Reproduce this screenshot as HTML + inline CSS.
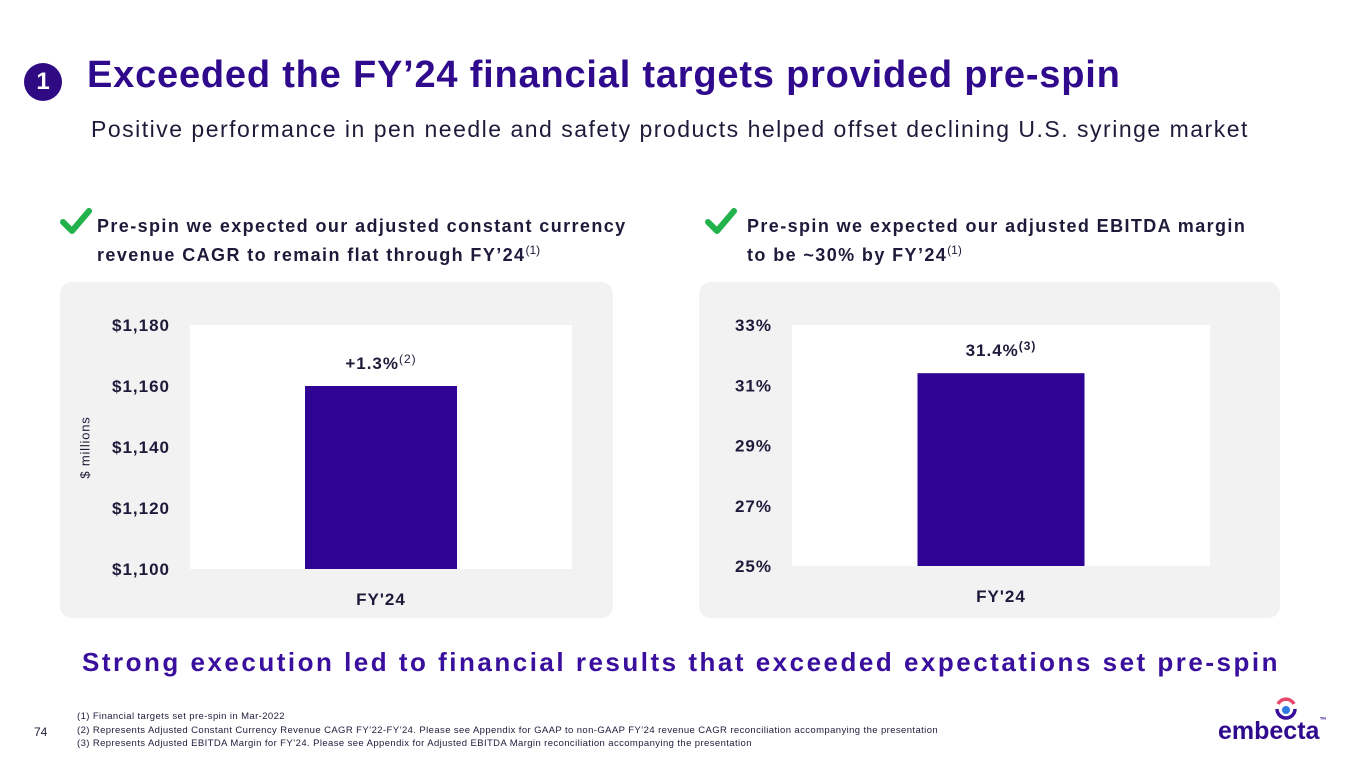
<!DOCTYPE html>
<html><head><meta charset="utf-8">
<style>
body{margin:0;width:1365px;height:768px;background:#fff;font-family:"Liberation Sans",sans-serif;position:relative;overflow:hidden;color:#1e1b3a}
.a{position:absolute}
.hdr{font-weight:bold;font-size:18px;line-height:24px;color:#1e1b3a;letter-spacing:1.4px}
.panel{background:#f2f2f2;border-radius:12px}
</style></head><body>
<div class="a" style="left:24px;top:63px;width:38px;height:38px;border-radius:50%;background:#2f0a82;color:#fff;font-weight:bold;font-size:24px;text-align:center;line-height:38px">1</div>
<div class="a" style="left:87px;top:54px;font-size:38px;font-weight:bold;color:#2f0a8c;white-space:nowrap;letter-spacing:0.8px">Exceeded the FY’24 financial targets provided pre-spin</div>
<div class="a" style="left:91px;top:116px;font-size:23px;color:#1e1b3a;white-space:nowrap;letter-spacing:1.5px">Positive performance in pen needle and safety products helped offset declining U.S. syringe market</div>

<svg class="a" style="left:60px;top:207px" width="32" height="30"><path d="M3 15 L12 24 L29 4" stroke="#22b24c" stroke-width="6" fill="none" stroke-linecap="round" stroke-linejoin="round"/></svg>
<div class="a hdr" style="left:97px;top:214px;white-space:nowrap">Pre-spin we expected our adjusted constant currency<br>revenue CAGR to remain flat through FY’24<sup style="font-weight:normal;font-size:12px;letter-spacing:0">(1)</sup></div>
<svg class="a" style="left:705px;top:207px" width="32" height="30"><path d="M3 15 L12 24 L29 4" stroke="#22b24c" stroke-width="6" fill="none" stroke-linecap="round" stroke-linejoin="round"/></svg>
<div class="a hdr" style="left:747px;top:214px;white-space:nowrap">Pre-spin we expected our adjusted EBITDA margin<br>to be ~30% by FY’24<sup style="font-weight:normal;font-size:12px;letter-spacing:0">(1)</sup></div>

<div class="a panel" style="left:60px;top:282px;width:553px;height:336px"></div>
<div class="a panel" style="left:699px;top:282px;width:581px;height:336px"></div>
<div class="a" style="left:40px;top:440px;width:90px;text-align:center;transform:rotate(-90deg);font-size:13px;color:#1e1b3a;letter-spacing:0.8px">$ millions</div>

<svg class="a" id="chart" style="left:0;top:0" width="1365" height="768"></svg>

<div class="a" style="left:82px;top:647px;font-size:26px;font-weight:bold;color:#3a0f9e;white-space:nowrap;letter-spacing:2.5px">Strong execution led to financial results that exceeded expectations set pre-spin</div>
<div class="a" style="left:34px;top:725px;font-size:12px;color:#1e1b3a">74</div>
<div class="a" style="left:77px;top:710px;font-size:9.5px;line-height:13.5px;color:#1e1b3a;white-space:nowrap;letter-spacing:0.4px">(1) Financial targets set pre-spin in Mar-2022<br>(2) Represents Adjusted Constant Currency Revenue CAGR FY’22-FY’24. Please see Appendix for GAAP to non-GAAP FY’24 revenue CAGR reconciliation accompanying the presentation<br>(3) Represents Adjusted EBITDA Margin for FY’24. Please see Appendix for Adjusted EBITDA Margin reconciliation accompanying the presentation</div>
<div class="a" style="left:1218px;top:717px;font-size:25px;font-weight:bold;color:#2f0a8c;letter-spacing:0px">embecta<span style="font-size:7px;vertical-align:top">™</span></div>
<svg class="a" style="left:1273px;top:696px" width="26" height="26"><path d="M5 8 A9 9 0 0 1 21 8" stroke="#e8456a" stroke-width="3.5" fill="none"/><path d="M4 13 A9 9 0 0 0 22 13" stroke="#3a0f9e" stroke-width="3.5" fill="none"/><circle cx="13" cy="14" r="4" fill="#2d7be0"/></svg>

<script>
const revCategories=["FY'24"];
const revValues=[1160];
const revTicks=[1100,1120,1140,1160,1180];
const revTickLabels=["$1,100","$1,120","$1,140","$1,160","$1,180"];
const revBarLabel="+1.3%";
const ebCategories=["FY'24"];
const ebValues=[31.4];
const ebTicks=[25,27,29,31,33];
const ebTickLabels=["25%","27%","29%","31%","33%"];
const ebBarLabel="31.4%";
const svg=document.getElementById('chart');
const NS='http://www.w3.org/2000/svg';
function mk(t,at,txt){const e=document.createElementNS(NS,t);for(const k in at)e.setAttribute(k,at[k]);if(txt!==undefined)e.textContent=txt;svg.appendChild(e);return e;}
function draw(cfg,cats,vals,ticks,labels,barLabel,sup,supBold,prefix){
  const y=v=>cfg.y1-(v-cfg.min)/(cfg.max-cfg.min)*(cfg.y1-cfg.y0);
  const p=mk('rect',{x:cfg.x0,y:cfg.y0,width:cfg.x1-cfg.x0,height:cfg.y1-cfg.y0,fill:'#fff'});
  
  
  ticks.forEach((t,i)=>{const e=mk('text',{x:cfg.lx,y:y(t)+6,'text-anchor':'end','font-size':17,'font-weight':'bold',fill:'#1e1b3a','letter-spacing':1},labels[i]);
    
    });
  const bw=(cfg.x1-cfg.x0)/cats.length;
  cats.forEach((c,i)=>{const cx=cfg.x0+bw*(i+0.5);
    const b=mk('rect',{x:cx-cfg.barW/2,y:y(vals[i]),width:cfg.barW,height:cfg.y1-y(vals[i]),fill:'#2f0394'});
    
    
    const l=mk('text',{x:cx,y:cfg.y1+36,'text-anchor':'middle','font-size':17,'font-weight':'bold',fill:'#1e1b3a','letter-spacing':1},c);
    
    
    const v=mk('text',{x:cx,y:y(vals[i])-17,'text-anchor':'middle','font-size':17,'font-weight':'bold',fill:'#1e1b3a','letter-spacing':1},barLabel);
    
    
    const s=document.createElementNS(NS,'tspan');s.setAttribute('dy',-6);s.setAttribute('font-size',12);s.setAttribute('font-weight',supBold?'bold':'normal');s.textContent=sup;v.appendChild(s);
  });
}
draw({x0:190,x1:572,y0:325,y1:569,min:1100,max:1180,lx:170,barW:152},revCategories,revValues,revTicks,revTickLabels,revBarLabel,'(2)',false,'revenue');
draw({x0:792,x1:1210,y0:325,y1:566,min:25,max:33,lx:772,barW:167},ebCategories,ebValues,ebTicks,ebTickLabels,ebBarLabel,'(3)',true,'ebitda');
</script>
</body></html>
